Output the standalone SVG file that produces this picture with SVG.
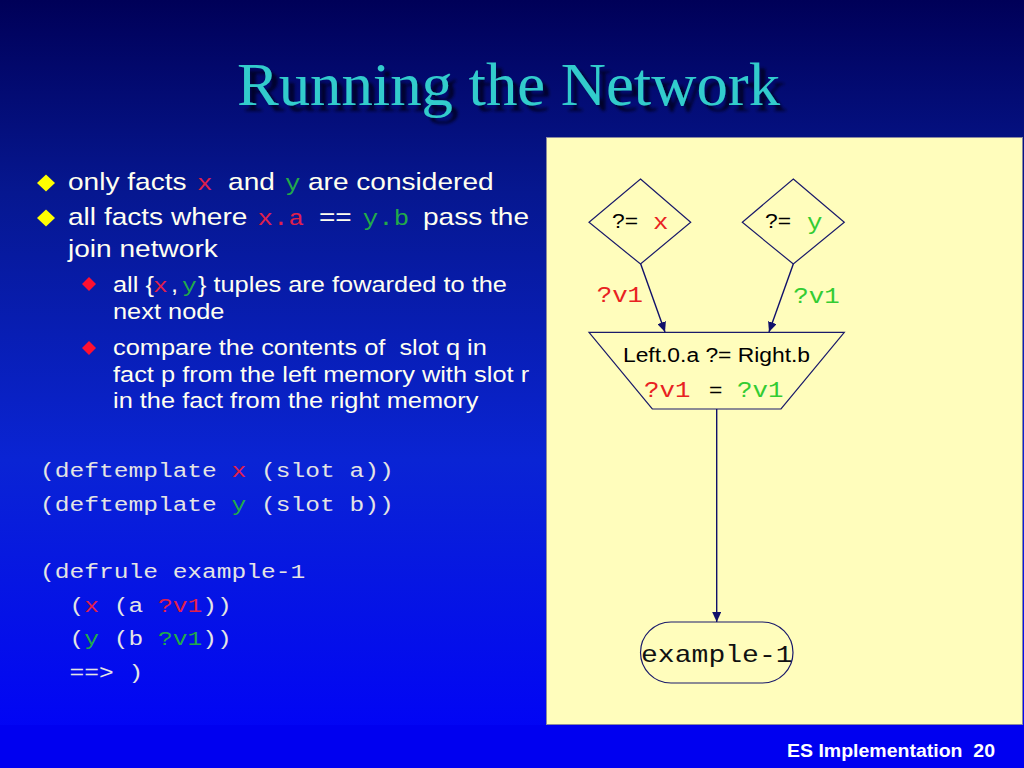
<svg xmlns="http://www.w3.org/2000/svg" width="1024" height="768" viewBox="0 0 1024 768">
<defs>
<linearGradient id="bg" x1="0" y1="0" x2="0" y2="1">
<stop offset="0" stop-color="#000058"/>
<stop offset="0.25" stop-color="#061790"/>
<stop offset="0.6" stop-color="#0A24D4"/>
<stop offset="1" stop-color="#0000FA"/>
</linearGradient>
<marker id="arr" markerUnits="userSpaceOnUse" markerWidth="10" markerHeight="9" refX="10" refY="4.5" orient="auto">
<path d="M0,0 L10,4.5 L0,9 z" fill="#10106A"/>
</marker>
<filter id="shadow" x="-5%" y="-20%" width="115%" height="150%">
<feDropShadow dx="6" dy="6" stdDeviation="1.5" flood-color="#000020" flood-opacity="0.85"/>
</filter>
</defs>
<style>
.l1{font-family:"Liberation Sans",Arial,sans-serif;font-size:24px;fill:#FFFFF0}
.l2{font-family:"Liberation Sans",Arial,sans-serif;font-size:21.7px;fill:#FFFFF0}
.code{font-family:"Liberation Mono","Courier New",monospace;font-size:21px;fill:#E4E4E4}
.cm{font-family:"Liberation Mono","Courier New",monospace;font-size:22px}
.rx{fill:#E0204A}
.gy{fill:#22AA4A}
.dr{fill:#E82222}
.dg{fill:#33CC33}
.shape{fill:none;stroke:#1A1A6A;stroke-width:1.2}
.dtxt{font-family:"Liberation Sans",Arial,sans-serif;font-size:19.5px;fill:#000000}
.dmono{font-family:"Liberation Mono","Courier New",monospace;font-size:22px}
.conn{stroke:#10106A;stroke-width:1.4;fill:none}
</style>
<rect x="0" y="0" width="1024" height="768" fill="url(#bg)"/>
<rect x="0" y="725" width="1024" height="43" fill="#0000F0"/>

<!-- Title -->
<g id="title">
<text x="237" y="105" font-family="'Liberation Serif','Times New Roman',serif" font-size="61" fill="#33CCCC" textLength="543" lengthAdjust="spacingAndGlyphs" filter="url(#shadow)">Running the Network</text>
</g>

<!-- Bullets -->
<g id="bullets">
<polygon points="46,174.5 55,183 46,191.5 37,183" fill="#FFFF00"/>
<polygon points="46,209.5 55,218 46,226.5 37,218" fill="#FFFF00"/>
<polygon points="89,277 96,284 89,291 82,284" fill="#FF1030"/>
<polygon points="89,341 96,348 89,355 82,348" fill="#FF1030"/>

<text class="l1" transform="translate(68,190) scale(1.17,1)">only facts<tspan class="cm rx" x="110.3">x</tspan><tspan x="136.8">and</tspan><tspan class="cm gy" x="185.5">y</tspan><tspan x="205.1">are considered</tspan></text>
<text class="l1" transform="translate(68,225) scale(1.17,1)">all facts where<tspan class="cm rx" x="162">x.a</tspan><tspan x="214.5">==</tspan><tspan class="cm gy" x="252">y.b</tspan><tspan x="303.4">pass the</tspan></text>
<text class="l1" transform="translate(68,257) scale(1.17,1)">join network</text>

<text class="l2" transform="translate(113,292) scale(1.17,1)">all {<tspan class="cm rx" style="font-size:21px" x="34.2">x</tspan><tspan x="49.6">,</tspan><tspan class="cm gy" style="font-size:21px" x="59">y</tspan><tspan x="72.6">} tuples are fowarded to the</tspan></text>
<text class="l2" transform="translate(113,319) scale(1.17,1)">next node</text>
<text class="l2" transform="translate(113,355) scale(1.17,1)" xml:space="preserve">compare the contents of  slot q in</text>
<text class="l2" transform="translate(113,382) scale(1.17,1)">fact p from the left memory with slot r</text>
<text class="l2" transform="translate(113,408) scale(1.17,1)">in the fact from the right memory</text>
</g>

<!-- Code -->
<g id="code">
<text class="code" transform="translate(40,477) scale(1.17,1)" xml:space="preserve">(deftemplate <tspan class="rx">x</tspan> (slot a))</text>
<text class="code" transform="translate(40,511) scale(1.17,1)" xml:space="preserve">(deftemplate <tspan class="gy">y</tspan> (slot b))</text>
<text class="code" transform="translate(40,578) scale(1.17,1)" xml:space="preserve">(defrule example-1</text>
<text class="code" transform="translate(40,612) scale(1.17,1)" xml:space="preserve">  (<tspan class="rx">x</tspan> (a <tspan class="rx">?v1</tspan>))</text>
<text class="code" transform="translate(40,645) scale(1.17,1)" xml:space="preserve">  (<tspan class="gy">y</tspan> (b <tspan class="gy">?v1</tspan>))</text>
<text class="code" transform="translate(40,679) scale(1.17,1)" xml:space="preserve">  ==&gt; )</text>
</g>

<!-- Panel -->
<rect x="546.5" y="137.5" width="476" height="587" fill="#FFFDBC" stroke="#8A8AA0" stroke-width="1"/>

<g id="node-x-test">
<polygon class="shape" points="640.5,179 690.7,222.3 640.5,264 589,222.3"/>
<text class="dtxt" transform="translate(612,228) scale(1.17,1)">?=</text>
<text class="dmono dr" transform="translate(653,229) scale(1.17,1)">x</text>
</g>

<g id="node-y-test">
<polygon class="shape" points="793.3,179 844.3,222.3 793.3,264 742.3,222.3"/>
<text class="dtxt" transform="translate(765,228) scale(1.17,1)">?=</text>
<text class="dmono dg" transform="translate(807,229) scale(1.17,1)">y</text>
</g>

<g id="node-join">
<polygon class="shape" points="589,332.3 844.3,332.3 781,409 652.3,409"/>
<text class="dtxt" text-anchor="middle" transform="translate(716.5,362) scale(1.17,1)">Left.0.a ?= Right.b</text>
<text class="dmono dr" transform="translate(644,396.7) scale(1.17,1)">?v1</text>
<text class="dtxt" transform="translate(709,396.7) scale(1.17,1)">=</text>
<text class="dmono dg" transform="translate(737,396.7) scale(1.17,1)">?v1</text>
</g>

<g id="node-rule">
<rect class="shape" x="640.5" y="622" width="152.5" height="61" rx="30.5" ry="30.5"/>
<text transform="translate(641,661.7) scale(1.17,1)" font-family="'Liberation Mono','Courier New',monospace" font-size="24" fill="#111111">example-1</text>
</g>

<g id="connectors">
<line class="conn" x1="640.7" y1="264" x2="665" y2="332" marker-end="url(#arr)"/>
<line class="conn" x1="793.3" y1="264" x2="769" y2="332" marker-end="url(#arr)"/>
<line class="conn" x1="716.7" y1="409" x2="716.7" y2="622" marker-end="url(#arr)"/>
<text class="dmono dr" transform="translate(596.7,301.7) scale(1.17,1)">?v1</text>
<text class="dmono dg" transform="translate(793.3,303) scale(1.17,1)">?v1</text>
</g>

<g id="footer">
<text x="995" y="757.3" text-anchor="end" font-family="'Liberation Sans',Arial,sans-serif" font-weight="bold" font-size="17.5" fill="#FFFFFF" xml:space="preserve" textLength="208" lengthAdjust="spacingAndGlyphs">ES Implementation  20</text>
</g>
</svg>
